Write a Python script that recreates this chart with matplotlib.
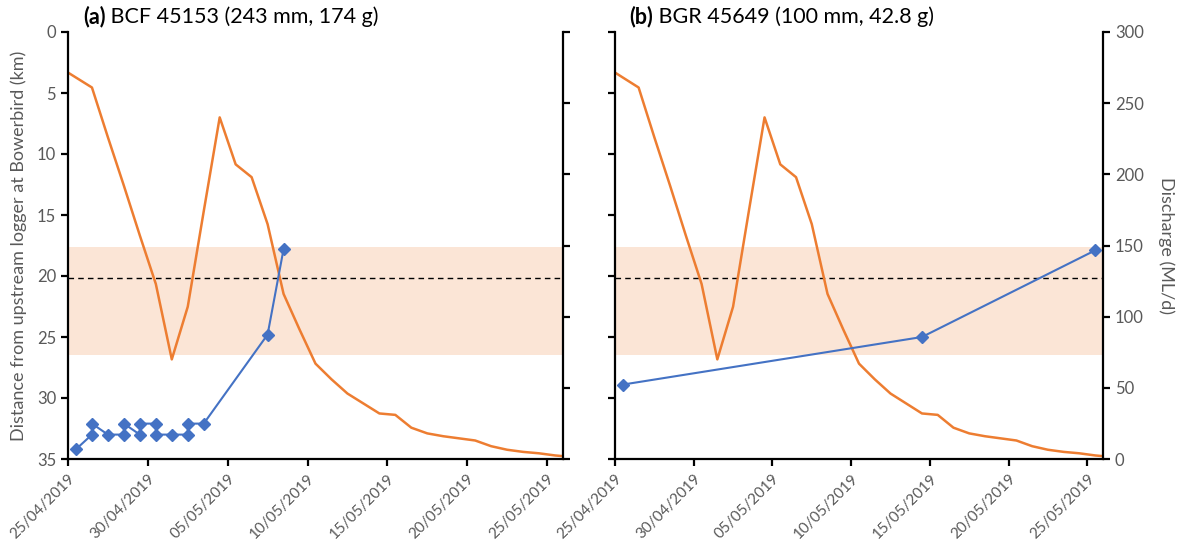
import numpy as np
import pandas as pd
import matplotlib
matplotlib.use("Agg")
import matplotlib.pyplot as plt
import matplotlib.dates as mdates
import matplotlib.transforms as mtransforms
from matplotlib.patches import Rectangle

plt.rcParams['font.family'] = ['Lato', 'DejaVu Sans']

# daily discharge (ML/d), daily values at midday
flow_dates = pd.date_range('2019-04-24 12:00', periods=33, freq='D')
flow = [275, 268, 261, 226, 192, 157, 123, 70, 107, 174, 240, 207, 198, 165,
        116, 91, 67, 56, 46, 39, 32, 31, 22, 18, 16, 14.5, 13, 9, 6.5, 5, 4,
        2.5, 1.5]

# fish (a) BCF 45153 detections, distance from upstream logger (km)
a_days = [0.5, 1.5, 1.5, 2.5, 3.5, 3.5, 4.5, 4.5, 5.5, 5.5, 6.5, 7.5, 7.5,
          8.5, 12.5, 13.5]
a_dist = [34.2, 33.0, 32.1, 33.0, 33.0, 32.1, 33.0, 32.1, 32.1, 33.0, 33.0,
          33.0, 32.1, 32.1, 24.8, 17.8]

# fish (b) BGR 45649
b_days = [0.5, 19.5, 30.5]
b_dist = [28.9, 25.0, 17.9]

band_top, band_bot = 17.6, 26.5
band_mid = 20.2

start = pd.Timestamp('2019-04-25')
a_dates = [start + pd.Timedelta(days=d) for d in a_days]
b_dates = [start + pd.Timedelta(days=d) for d in b_days]
xticks = pd.date_range('2019-04-25', periods=7, freq='5D')

orange = '#ED7D31'
blue = '#4472C4'
band_col = '#FBE5D6'
grey = '#595959'

fig = plt.figure(figsize=(11.9, 5.47), dpi=100)
ax_a = fig.add_axes([68 / 1190, 1 - 459 / 547, 495 / 1190, 427 / 547])
ax_b = fig.add_axes([615 / 1190, 1 - 459 / 547, 488 / 1190, 427 / 547])


def panel(ax, dates, dist, tag, title, left_labels):
    axq = ax.twinx()
    ax.set_zorder(axq.get_zorder() + 1)
    ax.patch.set_visible(False)

    # band + mean line sit behind the discharge line
    trans = mtransforms.blended_transform_factory(axq.transAxes, ax.transData)
    axq.add_patch(Rectangle((0, band_top), 1, band_bot - band_top,
                            transform=trans, facecolor=band_col,
                            edgecolor='none', zorder=0))
    axq.plot([0, 1], [band_mid, band_mid], transform=trans, color='black',
             lw=1, ls=(0, (4, 3)), zorder=1)

    axq.plot(flow_dates, flow, color=orange, lw=1.8, zorder=2)
    ax.plot(dates, dist, color=blue, lw=1.5, marker='D', ms=6, zorder=3)

    ax.set_xlim(start, pd.Timestamp('2019-05-26'))
    ax.set_ylim(35, 0)
    axq.set_ylim(0, 300)
    ax.set_yticks(np.arange(0, 36, 5))
    axq.set_yticks(np.arange(0, 301, 50))
    ax.set_xticks(xticks)
    ax.xaxis.set_major_formatter(mdates.DateFormatter('%d/%m/%Y'))

    for a in (ax, axq):
        a.spines['top'].set_visible(False)
        for s in a.spines.values():
            s.set_linewidth(1.6)
        a.tick_params(direction='out', length=5, width=1.6,
                      labelsize=12, labelcolor=grey)
    ax.spines['right'].set_visible(False)
    axq.spines['left'].set_visible(False)
    axq.spines['bottom'].set_visible(False)
    ax.tick_params(axis='x', pad=4, labelsize=11)
    for lab in ax.get_xticklabels():
        lab.set_rotation(45)
        lab.set_ha('right')
        lab.set_rotation_mode('anchor')

    if left_labels:
        axq.tick_params(axis='y', labelright=False)
        ax.set_ylabel('Distance from upstream logger at Bowerbird (km)',
                      fontsize=13, color=grey, labelpad=7)
    else:
        ax.tick_params(axis='y', labelleft=False)
        axq.set_ylabel('Discharge (ML/d)', fontsize=13, color=grey,
                       rotation=270, labelpad=22)

    t = ax.text(0.03, 1.012, tag, transform=ax.transAxes, fontsize=15.5,
                fontweight='bold', va='bottom', ha='left')
    ax.annotate(title, xy=(1, 0), xycoords=t, fontsize=15.5, va='bottom',
                ha='left')


panel(ax_a, a_dates, a_dist, '(a)', ' BCF 45153 (243 mm, 174 g)', True)
panel(ax_b, b_dates, b_dist, '(b)', ' BGR 45649 (100 mm, 42.8 g)', False)

fig.savefig('out.png', dpi=100)
